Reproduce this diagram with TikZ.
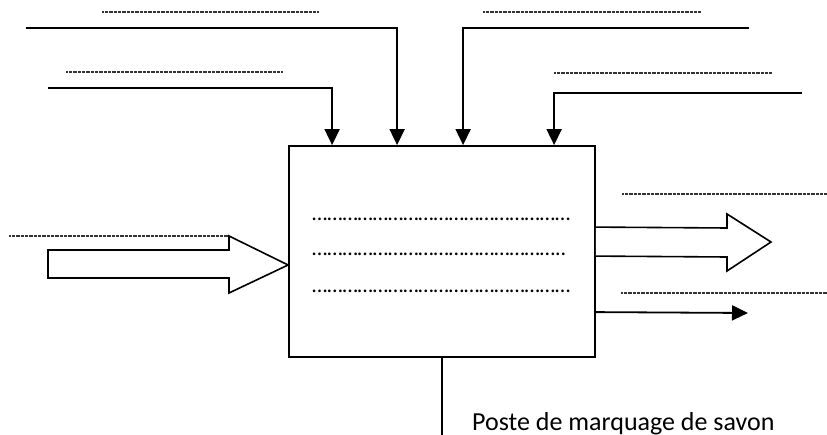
\documentclass[tikz,border=0pt]{standalone}
\usepackage{fontspec}
\setmainfont{Carlito}
\usetikzlibrary{arrows.meta}
\tikzset{
  thick line/.style={line width=1.8pt},
  blank/.style={line width=1.1pt, dash pattern=on 0.8pt off 0.5pt, black!80},
  flow/.style={line width=1.8pt, -{Triangle[width=15pt,length=16pt]}},
  hollow/.style={line width=1.6pt, line join=miter, fill=white},
  dotsrow/.style={anchor=base west, inner sep=0pt, font=\fontsize{22}{26}\selectfont}
}
\begin{document}
\begin{tikzpicture}[x=1pt,y=-1pt]
\useasboundingbox (0,0) rectangle (827,435);
% main box
\node[draw, line width=1.8pt, minimum width=306pt, minimum height=211pt, inner sep=0pt] (box) at (442,251.5) {};
% dotted rows inside box
\node[dotsrow] (r1) at (312,221) {……………………………………………};
\node[dotsrow] (r2) at (312,256) {…………………………………………..};
\node[dotsrow] (r3) at (312,293) {……………………………………………};
% blank lines
\draw[blank] (102,12) -- (318,12);
\draw[blank] (66,72) -- (283,72);
\draw[blank] (483,12) -- (701,12);
\draw[blank] (554,73) -- (772,73);
\draw[blank] (9,236) -- (228,236);
\draw[blank] (622,194) -- (827,194);
\draw[blank] (621,293) -- (827,293);
% control arrows from the top
\draw[flow] (48,88) -| ([xshift=44pt]box.north west);
\draw[flow] (26,28) -| ([xshift=109pt]box.north west);
\draw[flow] (749,28) -| ([xshift=175pt]box.north west);
\draw[flow] (802,93) -| ([xshift=266pt]box.north west);
% input hollow arrow
\draw[hollow] (48,250) -- (229,250) -- (229,236) -- (box.west |- 0,265) -- (229,293) -- (229,278) -- (48,278) -- cycle;
% output hollow arrow
\draw[hollow] ([yshift=-82pt]box.north east) -- (727,228) -- (727,214) -- (771,242) -- (727,271) -- (727,257) -- ([yshift=-111pt]box.north east);
% output arrow
\draw[flow] ([yshift=-167pt]box.north east) -- (748,313);
% mechanism
\coordinate (bot) at (442,435);
\draw[thick line] (box.south) -- (bot);
\node[anchor=base west, inner sep=0pt, font=\fontsize{26}{30}\selectfont] (mech) at (472,430) {Poste de marquage de savon};
\end{tikzpicture}
\end{document}
